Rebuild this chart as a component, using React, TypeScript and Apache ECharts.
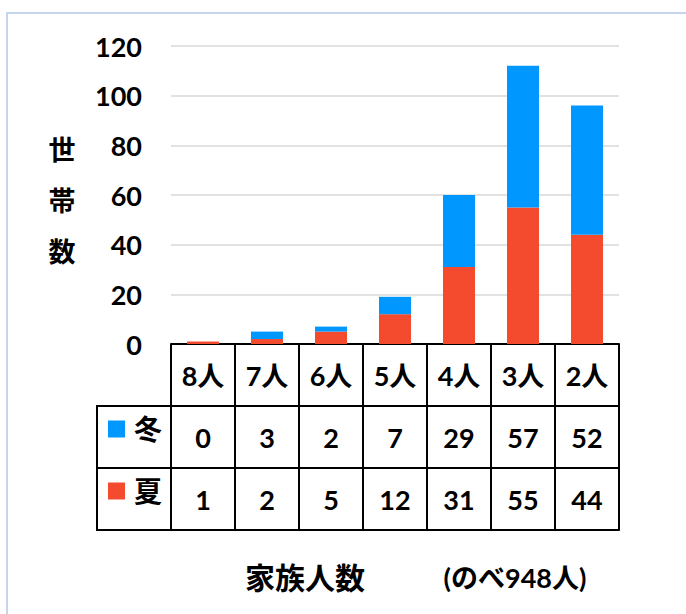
import React, { useEffect, useRef } from "react";
import * as echarts from "echarts";

const categories = ["8人", "7人", "6人", "5人", "4人", "3人", "2人"];
const winter = [0, 3, 2, 7, 29, 57, 52];
const summer = [1, 2, 5, 12, 31, 55, 44];
const seriesNames = ["冬", "夏"];
const yTicks = { min: 0, max: 120, interval: 20 };
const yAxisTitle = "世\n帯\n数";
const xAxisTitle = "家族人数";
const note = "(のべ948人)";

const FONT = "Lato, 'Noto Sans CJK JP', sans-serif";
const BLUE = "#0098FF";
const RED = "#F44A2E";

export default function App() {
  const ref = useRef<HTMLDivElement>(null);
  useEffect(() => {
    if (!ref.current) return;
    const chart = echarts.init(ref.current, null, { renderer: "svg" });
    const rowH = 62;
    const tableAxis = (data: string[], offset: number, showLabel = true, showTick = true) => ({
      type: "category",
      data,
      gridIndex: 0,
      position: "bottom",
      offset,
      axisLine: { show: true, lineStyle: { color: "#000", width: 2 } },
      axisTick: { show: showTick, length: rowH, inside: false, lineStyle: { color: "#000", width: 2 } },
      axisLabel: {
        show: showLabel,
        interval: 0,
        margin: rowH / 2,
        verticalAlign: "middle",
        color: "#000",
        fontSize: 27,
        fontWeight: "bold",
        fontFamily: FONT,
      },
      splitLine: { show: false },
    });
    chart.setOption({
      animation: false,
      grid: { left: 171, right: 67, top: 46, bottom: 270 },
      legend: {
        data: seriesNames,
        orient: "vertical",
        left: 108,
        top: 415,
        padding: 0,
        itemWidth: 17,
        itemHeight: 17,
        itemGap: 34,
        icon: "rect",
        selectedMode: false,
        textStyle: {
          fontSize: 28,
          fontWeight: "bold",
          fontFamily: FONT,
          color: "#000",
          lineHeight: 17,
          padding: [4, 0, 0, 4],
        },
      },
      xAxis: [
        tableAxis(categories, 0),
        tableAxis(winter.map(String), rowH),
        tableAxis(summer.map(String), rowH * 2),
        tableAxis(categories, rowH * 3, false, false),
      ],
      yAxis: {
        type: "value",
        min: yTicks.min,
        max: yTicks.max,
        interval: yTicks.interval,
        axisLine: { show: false },
        axisTick: { show: false },
        axisLabel: {
          margin: 29,
          color: "#000",
          fontSize: 27,
          fontWeight: "bold",
          fontFamily: FONT,
        },
        splitLine: { lineStyle: { color: "#d9d9d9", width: 1.5 } },
      },
      series: [
        {
          name: seriesNames[1],
          type: "bar",
          stack: "total",
          xAxisIndex: 0,
          barWidth: 32,
          data: summer,
          itemStyle: { color: RED },
        },
        {
          name: seriesNames[0],
          type: "bar",
          stack: "total",
          xAxisIndex: 0,
          barWidth: 32,
          data: winter,
          itemStyle: { color: BLUE },
        },
      ],
      graphic: [
        {
          type: "rect",
          z: -10,
          shape: { x: 7, y: 13, width: 720, height: 720 },
          style: { fill: "none", stroke: "#b4c7e7", lineWidth: 1.5 },
        },
        {
          type: "rect",
          shape: { x: 97, y: 406, width: 74, height: rowH * 2 },
          style: { fill: "none", stroke: "#000", lineWidth: 2 },
        },
        {
          type: "line",
          shape: { x1: 97, y1: 406 + rowH, x2: 171, y2: 406 + rowH },
          style: { stroke: "#000", lineWidth: 2 },
        },
        {
          type: "text",
          x: 62,
          y: 200,
          style: {
            text: yAxisTitle,
            fontSize: 27,
            fontWeight: "bold",
            fontFamily: FONT,
            fill: "#000",
            align: "center",
            verticalAlign: "middle",
            lineHeight: 51,
          },
        },
        {
          type: "text",
          x: 305,
          y: 577,
          style: {
            text: xAxisTitle,
            fontSize: 30,
            fontWeight: "bold",
            fontFamily: FONT,
            fill: "#000",
            align: "center",
            verticalAlign: "middle",
          },
        },
        {
          type: "text",
          x: 515,
          y: 577,
          style: {
            text: note,
            fontSize: 27,
            fontWeight: "bold",
            fontFamily: FONT,
            fill: "#000",
            align: "center",
            verticalAlign: "middle",
          },
        },
      ],
    });
    return () => chart.dispose();
  }, []);
  return (
    <div
      ref={ref}
      style={{ position: "fixed", left: 0, top: 0, width: 686, height: 614, background: "#fff" }}
    />
  );
}
